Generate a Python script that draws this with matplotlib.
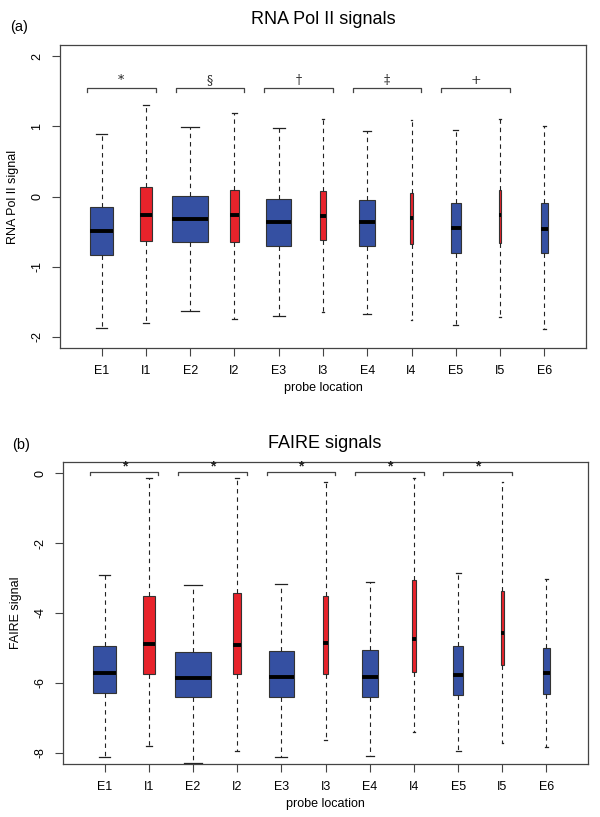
import matplotlib
matplotlib.use("Agg")
import matplotlib.pyplot as plt

plt.rcParams['font.family'] = ['Liberation Sans', 'DejaVu Sans']

labels = ['E1', 'I1', 'E2', 'I2', 'E3', 'I3', 'E4', 'I4', 'E5', 'I5', 'E6']
# relative box widths (R varwidth, ~ sqrt of group size)
box_widths = [0.51, 0.28, 0.80, 0.196, 0.557, 0.13, 0.37, 0.083, 0.23, 0.06, 0.15]

pol_lo = [-1.87, -1.80, -1.63, -1.74, -1.71, -1.65, -1.67, -1.76, -1.83, -1.72, -1.89]
pol_q1 = [-0.84, -0.64, -0.65, -0.65, -0.71, -0.62, -0.70, -0.68, -0.80, -0.66, -0.81]
pol_med = [-0.49, -0.26, -0.32, -0.27, -0.36, -0.28, -0.37, -0.30, -0.45, -0.26, -0.46]
pol_q3 = [-0.15, 0.14, 0.01, 0.09, -0.03, 0.08, -0.05, 0.05, -0.095, 0.09, -0.09]
pol_hi = [0.89, 1.30, 0.99, 1.19, 0.97, 1.10, 0.93, 1.09, 0.95, 1.11, 1.00]

faire_lo = [-8.13, -7.80, -8.30, -7.95, -8.13, -7.63, -8.09, -7.41, -7.95, -7.73, -7.84]
faire_q1 = [-6.28, -5.74, -6.40, -5.75, -6.39, -5.74, -6.39, -5.69, -6.35, -5.50, -6.32]
faire_med = [-5.71, -4.89, -5.86, -4.91, -5.83, -4.85, -5.83, -4.73, -5.78, -4.58, -5.73]
faire_q3 = [-4.93, -3.50, -5.12, -3.42, -5.09, -3.52, -5.07, -3.06, -4.95, -3.38, -5.01]
faire_hi = [-2.92, -0.15, -3.19, -0.13, -3.18, -0.26, -3.12, -0.13, -2.86, -0.25, -3.03]

pol_marks = ['*', '§', '†', '‡', '+']
faire_marks = ['*', '*', '*', '*', '*']
pairs = [(1, 2), (3, 4), (5, 6), (7, 8), (9, 10)]

blue = '#3550a2'
red = '#e8232b'
colors = [blue if l.startswith('E') else red for l in labels]
positions = list(range(1, len(labels) + 1))


def draw_panel(ax, lo, q1, med, q3, hi, ylim, yticks, ylabel, marks, br_y, tick_h, txt_y, bold):
    stats = []
    for i in range(len(labels)):
        stats.append(dict(whislo=lo[i], q1=q1[i], med=med[i], q3=q3[i], whishi=hi[i], fliers=[]))
    bp = ax.bxp(stats, positions=positions, widths=box_widths,
                capwidths=[w * 0.5 for w in box_widths],
                patch_artist=True, showfliers=False,
                boxprops=dict(edgecolor='#333333', linewidth=0.8),
                whiskerprops=dict(color='#222222', linewidth=0.8, linestyle=(0, (4, 3.5))),
                capprops=dict(color='#222222', linewidth=0.9),
                medianprops=dict(color='black', linewidth=2.8, solid_capstyle='butt'))
    for patch, c in zip(bp['boxes'], colors):
        patch.set_facecolor(c)
    ax.set_xlim(0.06, 11.94)
    ax.set_ylim(*ylim)
    ax.set_xticks(positions)
    ax.set_xticklabels(labels, fontsize=9)
    ax.set_yticks(yticks)
    ax.set_yticklabels([str(t) for t in yticks], fontsize=9, rotation=90, va='center')
    ax.tick_params(axis='both', length=6, width=0.8, color='#444444')
    ax.tick_params(axis='y', pad=6)
    ax.tick_params(axis='x', pad=6)
    ax.set_xlabel('probe location', fontsize=9, labelpad=4)
    ax.set_ylabel(ylabel, fontsize=9, labelpad=9)
    for s in ax.spines.values():
        s.set_color('#444444')
        s.set_linewidth(0.9)
    # significance brackets
    for (a, b), m in zip(pairs, marks):
        x0, x1 = a - 0.33, b + 0.22
        ax.plot([x0, x0, x1, x1], [br_y - tick_h, br_y, br_y, br_y - tick_h],
                color='#444444', linewidth=0.9)
        ax.text((x0 + x1) / 2, txt_y, m, ha='center', va='center',
                fontsize=9 if not bold else 10, family=['DejaVu Serif'] if not bold else ['Liberation Sans'],
                fontweight='bold' if bold else 'normal', color='#222222')


fig = plt.figure(figsize=(6, 8.17), dpi=100)
H = 817.0
ax1 = fig.add_axes([60 / 600, 1 - 348 / H, 526 / 600, 303 / H])
ax2 = fig.add_axes([63 / 600, 1 - 764 / H, 525 / 600, 302 / H])

draw_panel(ax1, pol_lo, pol_q1, pol_med, pol_q3, pol_hi, (-2.16, 2.16), [-2, -1, 0, 1, 2],
           'RNA Pol II signal', pol_marks, 1.54, 0.05, 1.65, False)
draw_panel(ax2, faire_lo, faire_q1, faire_med, faire_q3, faire_hi, (-8.32, 0.32), [-8, -6, -4, -2, 0],
           'FAIRE signal', faire_marks, 0.03, 0.08, 0.19, True)

fig.text(323 / 600, 1 - 20 / H, 'RNA Pol II signals', ha='center', va='center', fontsize=13)
fig.text(325 / 600, 1 - 443 / H, 'FAIRE signals', ha='center', va='center', fontsize=13)
fig.text(10 / 600, 1 - 27 / H, '(a)', ha='left', va='center', fontsize=10.5)
fig.text(12 / 600, 1 - 445 / H, '(b)', ha='left', va='center', fontsize=10.5)

fig.savefig('out.png', dpi=100)
